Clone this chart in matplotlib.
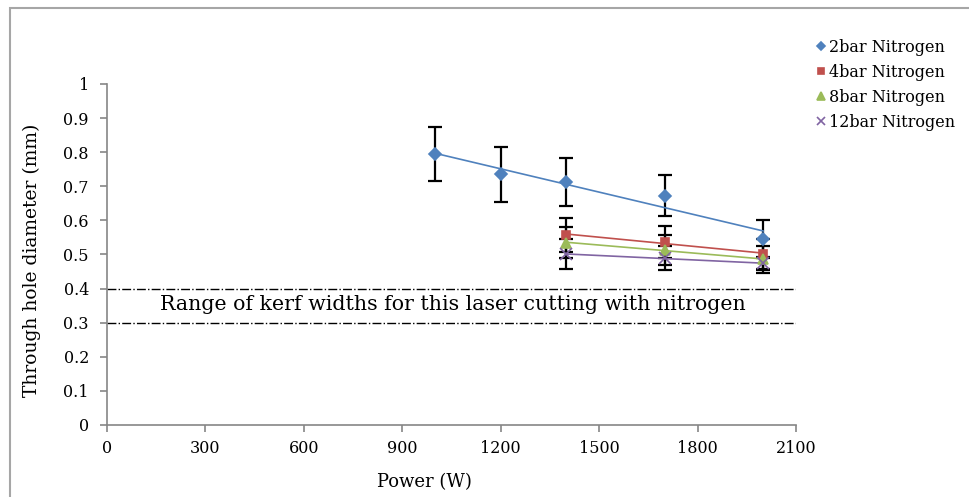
import matplotlib.pyplot as plt
import numpy as np
from matplotlib.patches import Rectangle

plt.rcParams['font.family'] = ['DejaVu Serif', 'Liberation Serif']

# Data
power_2bar = [1000, 1200, 1400, 1700, 2000]
dia_2bar = [0.795, 0.735, 0.713, 0.672, 0.545]
err_2bar = [0.08, 0.08, 0.07, 0.06, 0.055]

power_hi = [1400, 1700, 2000]
dia_4bar = [0.557, 0.538, 0.501]
err_4bar = [0.05, 0.047, 0.045]
dia_8bar = [0.535, 0.513, 0.486]
err_8bar = [0.045, 0.045, 0.04]
dia_12bar = [0.501, 0.489, 0.474]
err_12bar = [0.045, 0.035, 0.02]

series = [
    ("2bar Nitrogen", power_2bar, dia_2bar, err_2bar, "#4F81BD", "D", 6),
    ("4bar Nitrogen", power_hi, dia_4bar, err_4bar, "#C0504D", "s", 6),
    ("8bar Nitrogen", power_hi, dia_8bar, err_8bar, "#9BBB59", "^", 7),
    ("12bar Nitrogen", power_hi, dia_12bar, err_12bar, "#8064A2", "x", 8),
]

kerf_low = 0.3
kerf_high = 0.4

fig = plt.figure(figsize=(9.69, 4.97), dpi=100)
ax = fig.add_axes([0.1104, 0.1449, 0.7111, 0.6861])

handles = []
for name, x, y, e, color, marker, ms in series:
    ax.errorbar(x, y, yerr=e, fmt="none", ecolor="black", elinewidth=1.6,
                capsize=5, capthick=1.6, zorder=2)
    # linear trendline
    k, b = np.polyfit(x, y, 1)
    xs = np.array([min(x), max(x)])
    ax.plot(xs, k * xs + b, color=color, lw=1.2, zorder=3)
    h, = ax.plot(x, y, linestyle="none", marker=marker, color=color,
                 markersize=ms, markeredgewidth=1.2, zorder=4, label=name)
    handles.append(h)

for yv in [kerf_low, kerf_high]:
    ax.plot([0, 2100], [yv, yv], color="black", lw=1, linestyle="-.", zorder=1)
ax.text(1055, 0.352, "Range of kerf widths for this laser cutting with nitrogen",
        ha="center", va="center", fontsize=14.8)

ax.set_xlim(0, 2100)
ax.set_ylim(0, 1)
ax.set_xticks(np.arange(0, 2101, 300))
ax.set_yticks(np.arange(0, 1.01, 0.1))
ax.set_yticklabels(["0", "0.1", "0.2", "0.3", "0.4", "0.5", "0.6", "0.7", "0.8", "0.9", "1"])
ax.tick_params(labelsize=11.5, color="#868686", length=5, width=1.2)
ax.tick_params(axis="y", pad=8)
ax.tick_params(axis="x", pad=6)
for s in ["top", "right"]:
    ax.spines[s].set_visible(False)
for s in ["left", "bottom"]:
    ax.spines[s].set_color("#868686")
    ax.spines[s].set_linewidth(1.2)

ax.set_xlabel("Power (W)", fontsize=13)
ax.set_ylabel("Through hole diameter (mm)", fontsize=13.5)
ax.xaxis.set_label_coords(0.46, -0.14)
ax.yaxis.set_label_coords(-0.096, 0.484)

fig.legend(handles=handles, loc="upper left", bbox_to_anchor=(0.836, 0.935),
           frameon=False, fontsize=11.5, handlelength=0.6, handletextpad=0.2,
           labelspacing=0.5, borderaxespad=0, markerscale=0.75)

fig.add_artist(Rectangle((0.0103, -0.1), 1.2, 1.084, transform=fig.transFigure,
                         fill=False, edgecolor="#A6A6A6", lw=1.5, clip_on=False))

fig.savefig("out.png", dpi=100)
